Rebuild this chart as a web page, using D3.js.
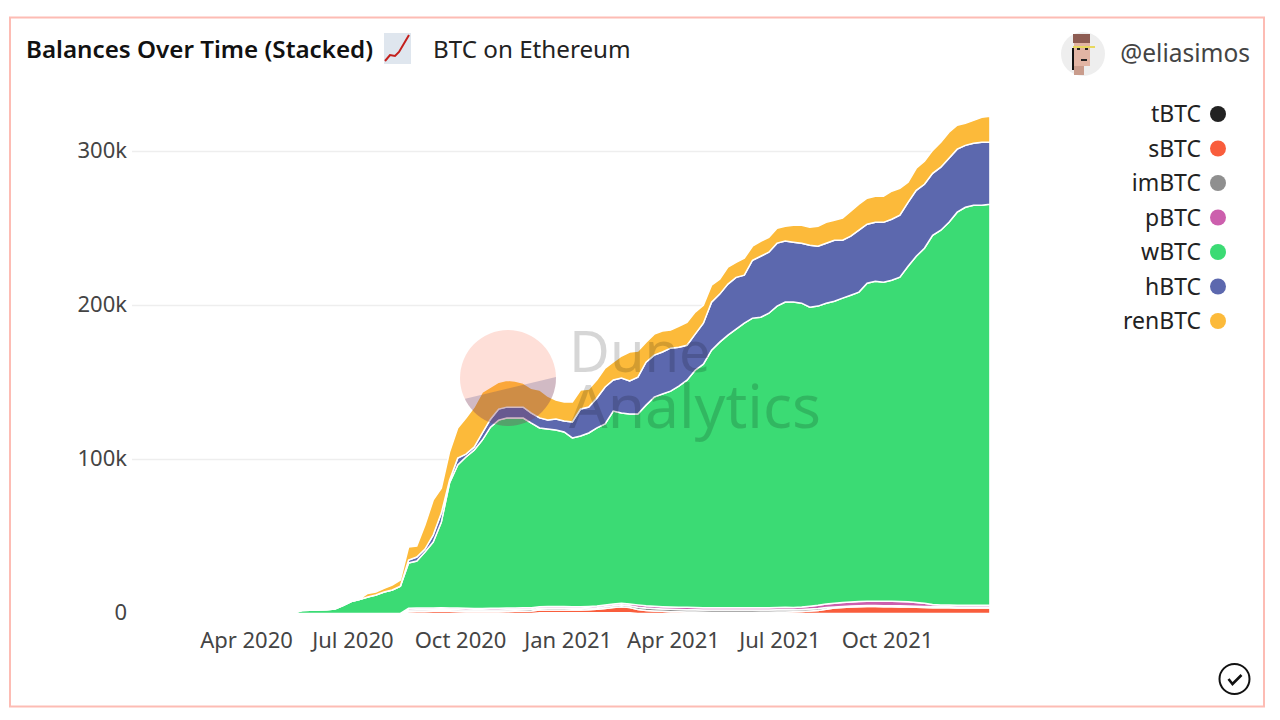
<!DOCTYPE html>
<html>
<head>
<meta charset="utf-8">
<title>Balances Over Time (Stacked)</title>
<script src="https://cdn.jsdelivr.net/npm/d3@7"></script>
<style>
  html, body { margin: 0; padding: 0; background: #fff; }
  svg { display: block; }
  text { font-family: "Noto Sans", "Open Sans", sans-serif; }
</style>
</head>
<body>
<div id="chart-container"></div>
<script>
(function(){
    /* global d3 */
    var dates = ['2020-05-12','2020-05-19','2020-05-26','2020-06-02','2020-06-09','2020-06-16','2020-06-23','2020-06-30','2020-07-07','2020-07-14','2020-07-21','2020-07-28','2020-08-04','2020-08-11','2020-08-18','2020-08-25','2020-09-01','2020-09-08','2020-09-15','2020-09-22','2020-09-29','2020-10-06','2020-10-13','2020-10-20','2020-10-27','2020-11-03','2020-11-10','2020-11-17','2020-11-24','2020-12-01','2020-12-08','2020-12-15','2020-12-22','2020-12-29','2021-01-05','2021-01-12','2021-01-19','2021-01-26','2021-02-02','2021-02-09','2021-02-16','2021-02-23','2021-03-02','2021-03-09','2021-03-16','2021-03-23','2021-03-30','2021-04-06','2021-04-13','2021-04-20','2021-04-27','2021-05-04','2021-05-11','2021-05-18','2021-05-25','2021-06-01','2021-06-08','2021-06-15','2021-06-22','2021-06-29','2021-07-06','2021-07-13','2021-07-20','2021-07-27','2021-08-03','2021-08-10','2021-08-17','2021-08-24','2021-08-31','2021-09-07','2021-09-14','2021-09-21','2021-09-28','2021-10-05','2021-10-12','2021-10-19','2021-10-26','2021-11-02','2021-11-09','2021-11-16','2021-11-23','2021-11-30','2021-12-07','2021-12-14','2021-12-21','2021-12-28'];

    // all balances in thousands of BTC, one value per date
    var tBTC = [0,0,0,0,0,0,0,0,0,0,0,0,0,0,0,0,0,0,0,0,0,0,0,0,0,0,0,0,0,0,0.5,0.5,0.5,0.5,0.5,0.5,0.5,0.5,0.5,0.5,0.5,0.5,0,0,0,0,0,0,0,0,0,0,0,0,0,0,0,0,0,0,0,0,0,0,0,0,0,0,0,0,0,0,0,0,0,0,0,0,0,0,0,0,0,0,0,0];
    var sBTC = [0,0,0,0,0,0,0,0,0,0,0,0,0,0,1.2,1.3,1.3,1.4,1.5,1.4,1.3,1.2,1.1,1.1,1.2,1.2,1.3,1.4,1.5,1.6,1.7,1.8,1.8,1.8,1.7,1.7,1.9,2.2,2.8,3.4,3.9,3.4,2.6,2.0,1.7,1.4,1.2,1.1,1.0,0.9,0.8,0.7,0.7,0.7,0.7,0.7,0.7,0.8,0.8,0.9,1.0,1.1,1.3,1.6,2.0,2.8,3.6,3.9,4.2,4.4,4.5,4.5,4.4,4.4,4.3,4.2,4.0,3.9,3.8,3.7,3.7,3.6,3.6,3.6,3.6,3.6];
    var imBTC = [0,0,0,0,0,0,0,0,0,0,0,0,0,0,1.1,1.1,1.1,1.1,1.1,1.1,1.1,1.1,1.1,1.1,1.1,1.1,1.1,1.1,1.1,1.1,1.1,1.1,1.1,1.1,1.1,1.1,1.1,1.1,1.1,1.1,1.1,1.1,1.5,1.5,1.5,1.5,1.5,1.5,1.5,1.5,1.5,1.5,1.5,1.5,1.5,1.5,1.5,1.5,1.5,1.5,1.5,1.3,1.3,1.3,1.3,1.1,0.7,0.7,0.7,0.7,0.7,0.7,0.7,0.7,0.7,0.7,0.7,0.7,0.7,0.7,0.7,0.7,0.7,0.7,0.7,0.7];
    var pBTC = [0,0,0,0,0,0,0,0,0,0,0,0,0,0,1.1,1.1,1.1,1.1,1.1,1.1,1.1,1.1,1.1,1.1,1.1,1.1,1.1,1.1,1.1,1.1,1.1,1.1,1.1,1.1,1.1,1.1,1.1,1.1,1.1,1.1,1.1,1.1,1.5,1.5,1.5,1.5,1.5,1.5,1.5,1.5,1.5,1.5,1.5,1.5,1.5,1.5,1.5,1.5,1.5,1.5,1.5,1.5,1.6,1.8,2.0,2.2,2.4,2.5,2.6,2.7,2.8,2.8,2.8,2.8,2.8,2.7,2.5,2.0,1.4,1.2,1.1,1.0,1.0,1.0,1.0,1.0];
    var wBTC = [0.5,1.9,2.1,2.3,2.4,2.9,5.2,7.8,9.1,10.7,12.0,14.0,15.3,17.8,29.4,30.6,36.4,42.8,55.7,81.1,92.9,98.2,102.8,109.3,117.6,122.2,123.4,123.3,123.2,119.8,116.1,115.3,114.7,113.4,109.6,110.9,112.6,115.6,117.6,125.4,123.6,123.5,123.9,130.3,135.8,138.1,140.2,143.5,147.5,154.1,158.1,167.3,172.5,177.1,180.9,184.8,188.1,188.6,191.2,195.7,198.2,198.3,197.3,194.2,194.3,195.4,196.1,197.7,199.2,200.9,206.5,207.8,207.2,208.5,210.6,217.9,224.8,230.6,239.7,243.3,248.6,255.3,258.5,259.8,259.8,260.5];
    var hBTC = [0,0,0,0,0,0,0,0,0,0,0,0,0,0,1.9,2.6,1.9,4.5,5.8,1.9,4.5,1.9,1.9,4.5,5.2,7.1,7.1,7.1,7.1,6.5,6.5,5.8,7.1,7.1,10.4,17.5,16.9,19.5,24.0,20.1,22.7,21.4,24.0,27.9,27.3,27.3,27.9,25.3,22.7,23.4,26.6,31.2,31.2,33.1,33.7,31.2,37.6,39.6,39.6,40.9,39.6,38.9,38.9,40.2,38.9,38.9,39.6,37.6,38.3,40.2,38.3,38.3,38.9,39.6,40.2,41.5,42.8,41.5,40.2,40.9,41.5,40.9,40.2,40.2,40.9,40.2];
    var renBTC = [0,0,0,0,0,0,0,0,0.3,2.3,1.9,2.3,3.2,3.9,8.4,7.1,15.6,22.7,16.2,18.2,19.5,23.4,26.0,26.6,20.8,17.5,17.5,16.9,15.6,16.2,18.2,15.6,12.3,12.3,13.0,12.3,11.7,11.7,12.3,11.7,14.3,18.8,16.9,13.0,13.6,13.6,11.7,13.6,14.9,14.3,11.7,11.0,9.7,11.0,9.7,11.0,9.1,9.7,9.7,9.7,9.7,11.0,11.7,11.7,13.0,13.6,13.0,14.3,16.2,16.9,16.9,16.9,16.9,18.2,17.5,13.0,14.3,14.9,14.9,16.2,16.9,15.6,14.3,14.9,16.2,16.9];

    var seriesNames = ['tBTC','sBTC','imBTC','pBTC','wBTC','hBTC','renBTC'];
    var seriesValues = [tBTC,sBTC,imBTC,pBTC,wBTC,hBTC,renBTC];
    var seriesColors = ['#222222','#f95d3c','#8f8f8f','#cc5fad','#3bdb74','#5c68ae','#fcba3a'];

    var yTicks = [0,100,200,300];
    var xTicks = ['2020-04-01','2020-07-01','2020-10-01','2021-01-01','2021-04-01','2021-07-01','2021-10-01'];

    var parseDate = d3.utcParse('%Y-%m-%d');

    var rows = dates.map((d,i) => {
        var row = { date: parseDate(d) };
        seriesNames.forEach((name,j) => row[name] = seriesValues[j][i]);
        return row;
    });

    var svg = d3.select('#chart-container')
        .append('svg')
        .attr('width', 1280)
        .attr('height', 720);

    createFrame();
    createChart();
    createWatermark();
    createLegend();
    createBadges();

    function createFrame(){
        svg.append('rect')
            .attr('x', 10).attr('y', 17.5)
            .attr('width', 1254).attr('height', 689)
            .attr('fill', '#fff')
            .attr('stroke', '#fdbcb4')
            .attr('stroke-width', 2);

        svg.append('text')
            .attr('x', 26).attr('y', 58)
            .attr('font-size', 24.2)
            .attr('font-weight', 600)
            .attr('fill', '#111')
            .text('Balances Over Time (Stacked)');

        svg.append('text')
            .attr('x', 433).attr('y', 58)
            .attr('font-size', 24.2)
            .attr('fill', '#222')
            .text('BTC on Ethereum');

        // chart emoji next to the title
        var icon = svg.append('g').attr('transform', 'translate(384,33)');
        icon.append('rect').attr('width', 27).attr('height', 31).attr('fill', '#dfe6ee');
        icon.append('path')
            .attr('d', 'M1,28 L6,22 L11,23 L15,19 L25,2')
            .attr('fill', 'none')
            .attr('stroke', '#c4201c')
            .attr('stroke-width', 2);
    }

    function createChart(){
        var x = d3.scaleUtc()
            .domain([parseDate('2020-04-01'), parseDate('2021-10-01')])
            .range([246, 887]);
        var y = d3.scaleLinear().domain([0,300]).range([613.5,151.5]);

        var yAxis = d3.axisLeft(y)
            .tickValues(yTicks)
            .tickSize(0)
            .tickPadding(0)
            .tickFormat(d => d === 0 ? '0' : d + 'k');

        var yGroup = svg.append('g')
            .attr('transform', 'translate(127,-1.5)')
            .call(yAxis);
        yGroup.select('.domain').remove();
        yGroup.selectAll('text')
            .attr('font-size', 22)
            .attr('fill', '#444')
            .style('font-family', '"Noto Sans", sans-serif');

        svg.selectAll('line.grid')
            .data(yTicks.filter(d => d > 0)).enter()
            .append('line')
            .attr('class', 'grid')
            .attr('x1', 132).attr('x2', 989)
            .attr('y1', d => y(d)).attr('y2', d => y(d))
            .attr('stroke', '#eeeeee')
            .attr('stroke-width', 1.5);

        var xAxis = d3.axisBottom(x)
            .tickValues(xTicks.map(parseDate))
            .tickSize(0)
            .tickPadding(0)
            .tickFormat(d3.utcFormat('%b %Y'));

        var xGroup = svg.append('g')
            .attr('transform', 'translate(0,632)')
            .call(xAxis);
        xGroup.select('.domain').remove();
        xGroup.selectAll('text')
            .attr('font-size', 22)
            .attr('fill', '#444')
            .style('font-family', '"Noto Sans", sans-serif');

        var stacked = d3.stack().keys(seriesNames)(rows);
        var area = d3.area()
            .x(d => x(d.data.date))
            .y0(d => y(d[0]))
            .y1(d => y(d[1]));

        svg.selectAll('path.band')
            .data(stacked).enter()
            .append('path')
            .attr('class', 'band')
            .attr('d', area)
            .attr('fill', (d,i) => seriesColors[i])
            .attr('stroke', '#fff')
            .attr('stroke-width', 1.5);
    }

    function createWatermark(){
        var mark = svg.append('g').attr('pointer-events', 'none');
        mark.append('circle')
            .attr('cx', 508).attr('cy', 378).attr('r', 48)
            .attr('fill', '#f95d3c')
            .attr('fill-opacity', 0.2);

        svg.append('clipPath').attr('id', 'logo-clip')
            .append('circle')
            .attr('cx', 508).attr('cy', 378).attr('r', 48);

        mark.append('path')
            .attr('clip-path', 'url(#logo-clip)')
            .attr('d', 'M460,400 L560,376 L560,430 L460,430 Z')
            .attr('fill', '#1e2a78')
            .attr('fill-opacity', 0.2);

        mark.append('text')
            .attr('x', 569).attr('y', 372)
            .attr('font-size', 56)
            .attr('fill', '#000')
            .attr('fill-opacity', 0.16)
            .text('Dune');

        mark.append('text')
            .attr('x', 569).attr('y', 428)
            .attr('font-size', 60.5)
            .attr('fill', '#000')
            .attr('fill-opacity', 0.16)
            .text('Analytics');
    }

    function createLegend(){
        var ly = d3.scalePoint().domain(seriesNames).range([114,321]);

        var items = svg.selectAll('g.legend')
            .data(seriesNames).enter()
            .append('g')
            .attr('class', 'legend')
            .attr('transform', d => 'translate(0,' + ly(d) + ')');

        items.append('text')
            .attr('x', 1201).attr('y', 8)
            .attr('text-anchor', 'end')
            .attr('font-size', 23)
            .attr('fill', '#222')
            .text(d => d);

        items.append('circle')
            .attr('cx', 1218).attr('cy', 0).attr('r', 8)
            .attr('fill', (d,i) => seriesColors[i]);
    }

    function createBadges(){
        // avatar, a rough pixel face
        var avatar = svg.append('g').attr('transform', 'translate(1083,54)');
        avatar.append('circle').attr('r', 22).attr('fill', '#eeeeee');
        avatar.append('rect').attr('x', -9).attr('y', -13).attr('width', 16).attr('height', 25).attr('fill', '#e2b5a4');
        avatar.append('rect').attr('x', -10).attr('y', -20).attr('width', 17).attr('height', 9).attr('fill', '#8d5c52');
        avatar.append('rect').attr('x', -10).attr('y', -8).attr('width', 22).attr('height', 2).attr('fill', '#e8d85e');
        avatar.append('rect').attr('x', -6).attr('y', -6).attr('width', 3).attr('height', 2).attr('fill', '#222');
        avatar.append('rect').attr('x', 2).attr('y', -6).attr('width', 3).attr('height', 2).attr('fill', '#222');
        avatar.append('rect').attr('x', -2).attr('y', 5).attr('width', 6).attr('height', 2).attr('fill', '#222');
        avatar.append('rect').attr('x', -11).attr('y', -6).attr('width', 2).attr('height', 22).attr('fill', '#111');
        avatar.append('rect').attr('x', -9).attr('y', 12).attr('width', 10).attr('height', 9).attr('fill', '#c99c8c');

        svg.append('text')
            .attr('x', 1250).attr('y', 62)
            .attr('text-anchor', 'end')
            .attr('font-size', 24.5)
            .attr('fill', '#444')
            .text('@eliasimos');

        // check mark bottom right
        var check = svg.append('g').attr('transform', 'translate(1234.5,679)');
        check.append('circle').attr('r', 15).attr('fill', 'none').attr('stroke', '#111').attr('stroke-width', 2);
        check.append('path')
            .attr('d', 'M-6,0 L-2,5 L7,-4')
            .attr('fill', 'none')
            .attr('stroke', '#111')
            .attr('stroke-width', 2.6);
    }
})();
</script>
</body>
</html>
